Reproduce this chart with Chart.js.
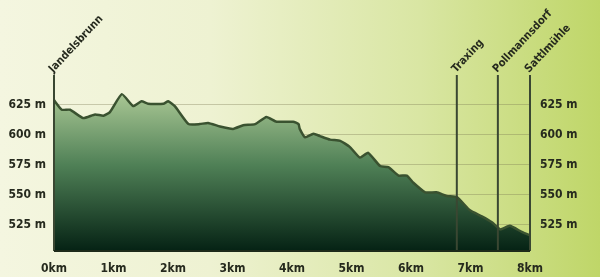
<!DOCTYPE html>
<html>
<head>
<meta charset="utf-8">
<script src="https://cdn.jsdelivr.net/npm/chart.js@4"></script>
<style>
  html, body { margin: 0; padding: 0; }
  body {
    width: 600px; height: 277px; overflow: hidden;
    background: linear-gradient(90deg, #f4f6e0 0%, #eef2d2 35%, #d9e6a3 70%, #bfd668 100%);
  }
  #wrap { position: relative; width: 600px; height: 277px; }
  canvas { display: block; }
</style>
</head>
<body>
<div id="wrap"><canvas id="chart" width="600" height="277"></canvas></div>
<script>
// ---- data ----
const distKm = [0, 0.13, 0.27, 0.49, 0.69, 0.83, 0.94, 1.14, 1.33, 1.47, 1.58, 1.84, 1.92, 2.03,
  2.26, 2.45, 2.59, 2.79, 3.01, 3.18, 3.38, 3.57, 3.74, 4.02, 4.11, 4.13, 4.22, 4.36, 4.47,
  4.64, 4.81, 4.97, 5.14, 5.28, 5.48, 5.62, 5.79, 5.93, 6.04, 6.24, 6.43, 6.60, 6.77, 6.99,
  7.19, 7.36, 7.50, 7.66, 7.86, 8.00];
const elevation = [629, 621, 621, 614, 617, 616, 619, 634, 624, 628, 626, 626, 628, 624,
  609, 609, 610, 607, 605, 608, 609, 615, 611, 611, 609, 605, 598, 601, 599,
  596, 595, 590, 581, 585, 574, 573, 566, 566, 560, 552, 552, 549, 548, 537,
  532, 527, 521, 524, 519, 516];

const placeNames = ["Jandelsbrunn", "Traxing", "Pollmannsdorf", "Sattlmühle"];
const placeKm    = [0, 6.77, 7.46, 8];

const xTicks = [0, 1, 2, 3, 4, 5, 6, 7, 8];
const yTicks = [525, 550, 575, 600, 625];

const FONT = "'DejaVu Sans Condensed', 'DejaVu Sans', sans-serif";
const TEXT = "#262a1e";

// vertical place markers + rotated names
const placesPlugin = {
    id: "places",
    afterDatasetsDraw(chart) {
        const ctx = chart.ctx;
        const x = chart.scales.x;
        const top = chart.chartArea.top, bottom = chart.chartArea.bottom;
        ctx.save();
        placeKm.forEach((km, i) => {
            const px = x.getPixelForValue(km);
            ctx.beginPath();
            ctx.strokeStyle = "#3a4732";
            ctx.lineWidth = 2;
            ctx.moveTo(px, top);
            ctx.lineTo(px, bottom);
            ctx.stroke();

            ctx.save();
            ctx.translate(px - 3, top - 4);
            ctx.rotate(-0.82);
            ctx.font = "bold 11px " + FONT;
            ctx.fillStyle = TEXT;
            ctx.textAlign = "left";
            ctx.textBaseline = "middle";
            ctx.fillText(placeNames[i], 0, 0);
            ctx.restore();
        });
        // bottom edge
        ctx.beginPath();
        ctx.strokeStyle = "#1d2a1a";
        ctx.lineWidth = 2;
        ctx.moveTo(chart.chartArea.left, bottom);
        ctx.lineTo(chart.chartArea.right, bottom);
        ctx.stroke();
        ctx.restore();
    }
};

const points = distKm.map((d, i) => ({ x: d, y: elevation[i] }));

const tickFont = { family: FONT, size: 12, weight: "bold" };

new Chart(document.getElementById("chart"), {
    type: "line",
    data: {
        datasets: [{
            data: points,
            borderColor: "#3a5230",
            borderWidth: 2.5,
            pointRadius: 0,
            tension: 0.15,
            fill: "start",
            backgroundColor: (c) => {
                const area = c.chart.chartArea;
                if (!area) return "#4a7a50";
                const g = c.chart.ctx.createLinearGradient(0, 95, 0, area.bottom);
                g.addColorStop(0, "#a8c693");
                g.addColorStop(0.45, "#4f8056");
                g.addColorStop(1, "#052214");
                return g;
            }
        }]
    },
    options: {
        responsive: false,
        animation: false,
        layout: { padding: { top: 75, right: 0, left: 0, bottom: 0 } },
        plugins: { legend: { display: false }, tooltip: { enabled: false } },
        scales: {
            x: {
                type: "linear",
                min: 0, max: 8,
                afterBuildTicks: (axis) => { axis.ticks = xTicks.map(v => ({ value: v })); },
                afterFit: (axis) => { axis.height = 26; },
                grid: { display: false, drawTicks: false },
                border: { display: false },
                ticks: {
                    padding: 11,
                    autoSkip: false,
                    maxRotation: 0,
                    minRotation: 0,
                    color: TEXT,
                    font: tickFont,
                    callback: (v) => v + "km"
                }
            },
            y: {
                position: "left",
                min: 503, max: 650,
                afterBuildTicks: (axis) => { axis.ticks = yTicks.map(v => ({ value: v })); },
                afterFit: (axis) => { axis.width = 54; },
                grid: { color: "rgba(120,118,80,0.35)", lineWidth: 1, drawTicks: false },
                border: { display: false },
                ticks: {
                    padding: 8,
                    autoSkip: false,
                    color: TEXT,
                    font: tickFont,
                    callback: (v) => v + " m"
                }
            },
            y2: {
                position: "right",
                min: 503, max: 650,
                afterBuildTicks: (axis) => { axis.ticks = yTicks.map(v => ({ value: v })); },
                afterFit: (axis) => { axis.width = 70; },
                grid: { display: false, drawTicks: false },
                border: { display: false },
                ticks: {
                    padding: 10,
                    autoSkip: false,
                    color: TEXT,
                    font: tickFont,
                    callback: (v) => v + " m"
                }
            }
        }
    },
    plugins: [placesPlugin]
});
</script>
</body>
</html>
